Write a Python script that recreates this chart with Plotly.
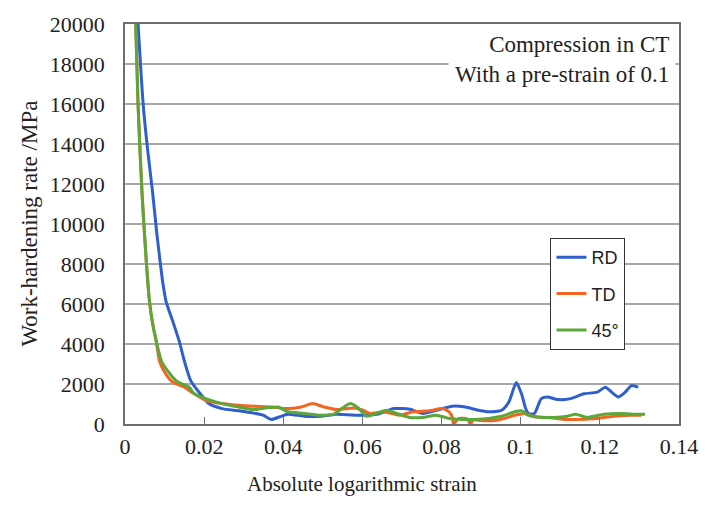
import plotly.graph_objects as go

# ---- data ----
RD_x = [0.0033, 0.0046, 0.0057, 0.0070, 0.0080, 0.0089, 0.0096, 0.0104, 0.0121, 0.0137, 0.0150, 0.0166,
        0.0187, 0.0212, 0.0245, 0.0287, 0.0328, 0.0349, 0.0370, 0.0391, 0.0411, 0.0453,
        0.0494, 0.0536, 0.0586, 0.0640, 0.0680, 0.0720, 0.0752, 0.0790, 0.0827, 0.0860,
        0.0890, 0.0919, 0.0952, 0.0970, 0.0989, 0.1002, 0.1014, 0.1022, 0.1035, 0.1052,
        0.1068, 0.1093, 0.1126, 0.1160, 0.1193, 0.1214, 0.1230, 0.1247, 0.1264, 0.1280, 0.1297]
RD_y = [20000, 15960, 13740, 11530, 9600, 8080, 7000, 6110, 5120, 4140, 3150, 2170,
        1590, 1020, 770, 660, 530, 440, 230, 360, 490, 390,
        390, 490, 440, 500, 770, 740, 530, 700, 890, 850,
        700, 610, 690, 1100, 2080, 1510, 690, 500, 530, 1270,
        1350, 1220, 1270, 1510, 1590, 1840, 1590, 1350, 1590, 1920, 1840]

TD_x = [0.0027, 0.0033, 0.0043, 0.0054, 0.0062, 0.0070, 0.0079, 0.0087, 0.0100, 0.0116, 0.0130,
        0.0150, 0.0175, 0.0204, 0.0245, 0.0287, 0.0328, 0.0370, 0.0411, 0.0445, 0.0474,
        0.0503, 0.0536, 0.0578, 0.0600, 0.0620, 0.0653, 0.0694, 0.0728, 0.0769, 0.0802,
        0.0819, 0.0828, 0.0830, 0.0844, 0.0865, 0.0873, 0.0880, 0.0902, 0.0943, 0.0985,
        0.1010, 0.1035, 0.1068, 0.1110, 0.1151, 0.1193, 0.1234, 0.1276, 0.1305]
TD_y = [20000, 15960, 11530, 8080, 6110, 5000, 4140, 3150, 2600, 2170, 2000,
        1840, 1510, 1180, 1020, 940, 890, 850, 770, 850, 1020,
        850, 720, 800, 700, 530, 610, 440, 610, 660, 770,
        610, 300, 0, 280, 250, 0, 200, 160, 200, 440,
        530, 360, 330, 230, 230, 280, 390, 440, 440]

G_x = [0.0027, 0.0033, 0.0043, 0.0054, 0.0062, 0.0070, 0.0079, 0.0092, 0.0110, 0.0129, 0.0150,
       0.0162, 0.0175, 0.0204, 0.0245, 0.0287, 0.0328, 0.0362, 0.0387, 0.0411, 0.0453,
       0.0494, 0.0528, 0.0553, 0.0570, 0.0586, 0.0603, 0.0611, 0.0636, 0.0661, 0.0686,
       0.0719, 0.0752, 0.0786, 0.0819, 0.0852, 0.0886, 0.0919, 0.0952, 0.0985, 0.1002,
       0.1018, 0.1052, 0.1085, 0.1118, 0.1139, 0.1168, 0.1210, 0.1251, 0.1293, 0.1314]
G_y = [20000, 15960, 11530, 8080, 6110, 5000, 4140, 3150, 2600, 2170, 1950,
       1840, 1510, 1270, 1020, 850, 720, 820, 850, 610, 530,
       440, 490, 850, 1020, 850, 530, 390, 530, 690, 530,
       330, 330, 440, 280, 230, 230, 280, 390, 610, 660,
       440, 330, 330, 390, 490, 330, 490, 530, 490, 490]

series_names = ["RD", "TD", "45°"]
series_colors = ["#2F5FCC", "#F26522", "#5BA739"]

x_tickvals = [0, 0.02, 0.04, 0.06, 0.08, 0.1, 0.12, 0.14]
x_ticktext = ["0", "0.02", "0.04", "0.06", "0.08", "0.1", "0.12", "0.14"]
y_tickvals = [0, 2000, 4000, 6000, 8000, 10000, 12000, 14000, 16000, 18000, 20000]

fig = go.Figure()
for i, (xs, ys) in enumerate([(RD_x, RD_y), (TD_x, TD_y), (G_x, G_y)]):
    fig.add_trace(go.Scatter(
        x=xs, y=ys, mode="lines", name=series_names[i],
        line=dict(color=series_colors[i], width=3, shape="spline", smoothing=0.6),
        legendgroup=series_names[i],
    ))

serif = "Liberation Serif"
fig.update_layout(
    width=710, height=506,
    margin=dict(l=125, r=23, t=18, b=82),
    paper_bgcolor="white", plot_bgcolor="white",
    showlegend=True,
    legend=dict(
        x=0.768, y=0.465, xanchor="left", yanchor="top",
        bgcolor="white", bordercolor="#333333", borderwidth=1,
        font=dict(family="Liberation Sans", size=18, color="#222222"),
        tracegroupgap=10,
    ),
    xaxis=dict(
        range=[0, 0.14], tickvals=x_tickvals, ticktext=x_ticktext,
        showgrid=False, zeroline=False,
        showline=True, linecolor="#6e6e6e", linewidth=1.5, mirror=True,
        ticks="inside", ticklen=7, tickcolor="#6e6e6e", tickwidth=1,
        tickfont=dict(family=serif, size=22, color="#222222"),
        ticklabelstandoff=2,
    ),
    yaxis=dict(
        range=[0, 20000], tickvals=y_tickvals, tickformat="d",
        showgrid=True, gridcolor="#a8a8a8", gridwidth=1.5, zeroline=False,
        showline=True, linecolor="#6e6e6e", linewidth=1.5, mirror=True,
        ticks="", tickfont=dict(family=serif, size=22, color="#222222"),
        ticklabelstandoff=14,
    ),
)

fig.add_annotation(
    text="Compression in CT<br>With a pre-strain of 0.1",
    xref="paper", yref="paper", x=0.995, y=0.997, xanchor="right", yanchor="top",
    align="right", showarrow=False, bgcolor="white", borderpad=6,
    font=dict(family=serif, size=23, color="#222222"),
)
fig.add_annotation(
    text="Absolute logarithmic strain",
    xref="paper", yref="paper", x=0.428, y=-0.150, xanchor="center", yanchor="middle",
    showarrow=False, font=dict(family=serif, size=21, color="#222222"),
)
fig.add_annotation(
    text="Work-hardening rate /MPa",
    xref="paper", yref="paper", x=-0.1726, y=0.502, xanchor="center", yanchor="middle",
    textangle=-90, showarrow=False, font=dict(family=serif, size=23, color="#222222"),
)

fig.write_html("out.html")
